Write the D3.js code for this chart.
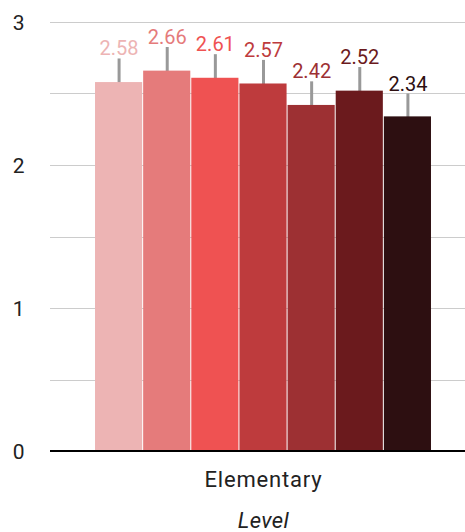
<!DOCTYPE html>
<html>
<head>
<meta charset="utf-8">
<script src="https://cdn.jsdelivr.net/npm/d3@7"></script>
<style>
  body { margin: 0; background: #fff; }
  text { font-family: Roboto, sans-serif; }
</style>
</head>
<body>
<script>
const categories = ["Elementary"];
const series = ["s1", "s2", "s3", "s4", "s5", "s6", "s7"];
const values = [2.58, 2.66, 2.61, 2.57, 2.42, 2.52, 2.34];
const errors = [0.165, 0.165, 0.165, 0.165, 0.165, 0.165, 0.16];
const colours = ["#edb4b4", "#e57b7b", "#ef5252", "#be3b3d", "#9d3033", "#6b1a1d", "#2d0f11"];
const yTicks = [0, 0.5, 1, 1.5, 2, 2.5, 3];
const yLabels = [0, 1, 2, 3];
const xTitle = "Level";

let width = 465, height = 532;
let plotLeft = 50, plotTop = 22, plotBottom = 451;

let svg = d3.select("body").append("svg")
    .attr("width", width)
    .attr("height", height);

let y = d3.scaleLinear().domain([0, 3]).range([plotBottom, plotTop]);

let x0 = d3.scaleBand().domain(categories).range([plotLeft, 477])
    .paddingInner(0).paddingOuter(0.1336);

let x1 = d3.scaleBand().domain(series).range([0, x0.bandwidth()]);

// grid
svg.append("g").selectAll("line")
    .data(yTicks.filter(d => d > 0))
    .join("line")
    .attr("x1", plotLeft).attr("x2", width)
    .attr("y1", d => Math.round(y(d)) + 0.5).attr("y2", d => Math.round(y(d)) + 0.5)
    .attr("stroke", "#cccccc")
    .attr("stroke-width", 1.2);

svg.append("g").selectAll("text")
    .data(yLabels)
    .join("text")
    .attr("x", 24.5)
    .attr("y", d => y(d))
    .attr("dy", "0.36em")
    .attr("text-anchor", "end")
    .attr("font-size", 21)
    .attr("fill", "#222")
    .text(d => d);

let rows = series.map((s, i) => ({ s, v: values[i], e: errors[i], c: colours[i] }));

let g = svg.append("g").attr("transform", `translate(${x0(categories[0])},0)`);

// error bars sit behind the bars
g.selectAll("line.err")
    .data(rows)
    .join("line")
    .attr("class", "err")
    .attr("x1", d => x1(d.s) + x1.bandwidth() / 2)
    .attr("x2", d => x1(d.s) + x1.bandwidth() / 2)
    .attr("y1", d => y(d.v - d.e))
    .attr("y2", d => y(d.v + d.e))
    .attr("stroke", "#999999")
    .attr("stroke-width", 3);

g.selectAll("rect")
    .data(rows)
    .join("rect")
    .attr("x", d => x1(d.s))
    .attr("width", x1.bandwidth() - 1)
    .attr("y", d => y(d.v))
    .attr("height", d => y(0) - y(d.v))
    .attr("fill", d => d.c);

g.selectAll("text")
    .data(rows)
    .join("text")
    .attr("x", d => x1(d.s) + x1.bandwidth() / 2)
    .attr("y", d => y(d.v + d.e) - 3)
    .attr("text-anchor", "middle")
    .attr("font-size", 20)
    .attr("fill", d => d.c)
    .text(d => d.v.toFixed(2));

// baseline
svg.append("line")
    .attr("x1", plotLeft).attr("x2", width)
    .attr("y1", y(0)).attr("y2", y(0))
    .attr("stroke", "#000")
    .attr("stroke-width", 2);

svg.append("g").selectAll("text")
    .data(categories)
    .join("text")
    .attr("x", d => x0(d) + x0.bandwidth() / 2)
    .attr("y", 487)
    .attr("text-anchor", "middle")
    .attr("font-size", 22)
    .attr("letter-spacing", 0.8)
    .attr("fill", "#222")
    .text(d => d);

svg.append("text")
    .attr("x", x0(categories[0]) + x0.bandwidth() / 2)
    .attr("y", 528)
    .attr("text-anchor", "middle")
    .attr("font-size", 22)
    .attr("letter-spacing", 0.4)
    .attr("font-style", "italic")
    .attr("fill", "#222")
    .text(xTitle);
</script>
</body>
</html>
